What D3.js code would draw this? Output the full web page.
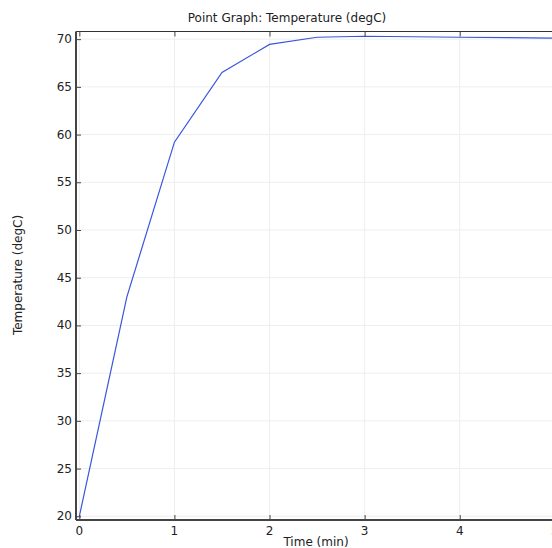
<!DOCTYPE html>
<html>
<head>
<meta charset="utf-8">
<script src="https://cdn.jsdelivr.net/npm/d3@7"></script>
<style>
  body { margin: 0; background: #fff; }
  text { font-family: "DejaVu Sans", sans-serif; fill: #222; }
</style>
</head>
<body>
<svg width="552" height="548"></svg>
<script>
// data
var times = [0, 0.5, 1, 1.5, 2, 2.5, 3, 3.5, 4, 4.5, 5];
var temps = [20, 43, 59.2, 66.5, 69.45, 70.2, 70.3, 70.25, 70.2, 70.15, 70.1];
var xTicks = [0, 1, 2, 3, 4, 5];
var yTicks = [20, 25, 30, 35, 40, 45, 50, 55, 60, 65, 70];

var svg = d3.select("svg"),
    width = +svg.attr("width"),
    height = +svg.attr("height");

var plotLeft = 76, plotTop = 31.5, plotBottom = 520;

var x = d3.scaleLinear()
    .domain([-0.035, 5.1])
    .range([plotLeft, plotLeft + 5.135 * 95.1]);

var y = d3.scaleLinear()
    .domain([19.61, 70.8])
    .range([plotBottom, plotTop]);

var plotRight = x.range()[1];

// grid
svg.append("g")
    .selectAll("line")
    .data(xTicks)
    .enter()
    .append("line")
    .attr("x1", d => x(d)).attr("x2", d => x(d))
    .attr("y1", plotTop).attr("y2", plotBottom)
    .attr("stroke", "#eeeeee")
    .attr("stroke-width", 1);

svg.append("g")
    .selectAll("line")
    .data(yTicks)
    .enter()
    .append("line")
    .attr("x1", plotLeft).attr("x2", plotRight)
    .attr("y1", d => y(d)).attr("y2", d => y(d))
    .attr("stroke", "#eeeeee")
    .attr("stroke-width", 1);

// curve
var line = d3.line()
    .x((d, i) => x(times[i]))
    .y(d => y(d));

svg.append("path")
    .datum(temps)
    .attr("d", line)
    .attr("fill", "none")
    .attr("stroke", "#3a55dd")
    .attr("stroke-width", 1.2);

// axes, ticks pointing inward
var bottomAxis = d3.axisTop(x).tickValues(xTicks).tickSize(5).tickFormat("");
var topAxis = d3.axisBottom(x).tickValues(xTicks).tickSize(5).tickFormat("");
var leftAxis = d3.axisRight(y).tickValues(yTicks).tickSize(5).tickFormat("");

function styleAxis(g) {
    g.select(".domain").remove();
    g.selectAll(".tick line").attr("stroke", "#444").attr("stroke-width", 1);
}

svg.append("g").attr("transform", "translate(0," + plotBottom + ")").call(bottomAxis).call(styleAxis);
svg.append("g").attr("transform", "translate(0," + plotTop + ")").call(topAxis).call(styleAxis);
svg.append("g").attr("transform", "translate(" + plotLeft + ",0)").call(leftAxis).call(styleAxis);

// frame lines
svg.append("line").attr("x1", plotLeft).attr("x2", plotRight).attr("y1", plotBottom).attr("y2", plotBottom)
    .attr("stroke", "#444").attr("stroke-width", 2);
svg.append("line").attr("x1", plotLeft).attr("x2", plotRight).attr("y1", plotTop).attr("y2", plotTop)
    .attr("stroke", "#333").attr("stroke-width", 1.2);
svg.append("line").attr("x1", plotLeft).attr("x2", plotLeft).attr("y1", plotTop).attr("y2", plotBottom)
    .attr("stroke", "#444").attr("stroke-width", 2);

// tick labels
svg.append("g")
    .selectAll("text")
    .data(xTicks)
    .enter()
    .append("text")
    .attr("x", d => x(d))
    .attr("y", plotBottom + 15)
    .attr("text-anchor", "middle")
    .style("font-size", "12px")
    .text(d => d);

svg.append("g")
    .selectAll("text")
    .data(yTicks)
    .enter()
    .append("text")
    .attr("x", plotLeft - 4)
    .attr("y", d => y(d) + 4)
    .attr("text-anchor", "end")
    .style("font-size", "12px")
    .text(d => d);

// titles
svg.append("text")
    .attr("x", 287)
    .attr("y", 22)
    .attr("text-anchor", "middle")
    .style("font-size", "12px")
    .text("Point Graph: Temperature (degC)");

svg.append("text")
    .attr("x", 316)
    .attr("y", 546)
    .attr("text-anchor", "middle")
    .style("font-size", "12px")
    .text("Time (min)");

svg.append("text")
    .attr("transform", "translate(22,275) rotate(-90)")
    .attr("text-anchor", "middle")
    .style("font-size", "12px")
    .text("Temperature (degC)");
</script>
</body>
</html>
